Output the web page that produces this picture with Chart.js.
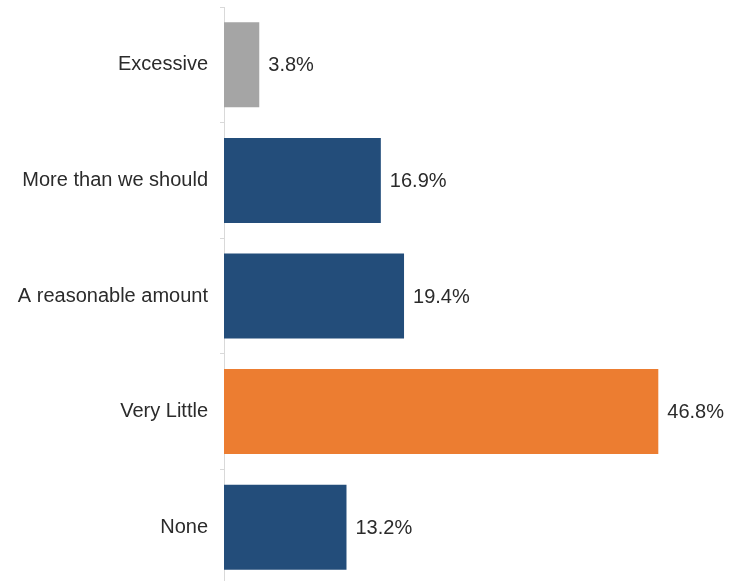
<!DOCTYPE html>
<html>
<head>
<meta charset="utf-8">
<script src="https://cdn.jsdelivr.net/npm/chart.js@4/dist/chart.umd.min.js"></script>
<style>
  html, body { margin: 0; padding: 0; background: #ffffff; overflow: hidden; }
  #wrap { width: 733px; height: 585px; }
</style>
</head>
<body>
<div id="wrap"><canvas id="c"></canvas></div>
<script>
// Survey answers and their shares (percent)
const categories = ["Excessive", "More than we should", "A reasonable amount", "Very Little", "None"];
const shares = [3.8, 16.9, 19.4, 46.8, 13.2];
const barColors = ["#a5a5a5", "#234d7a", "#234d7a", "#ec7d31", "#234d7a"];

const FONT_FAMILY = "'Liberation Sans', Arial, sans-serif";
const FONT_SIZE = 20;

// Prints each bar's value just past its end
const valueLabels = {
  id: "valueLabels",
  afterDatasetsDraw(chart) {
    const ctx = chart.ctx;
    const meta = chart.getDatasetMeta(0);
    ctx.save();
    ctx.font = FONT_SIZE + "px " + FONT_FAMILY;
    ctx.fillStyle = "#2b2b2b";
    ctx.textAlign = "left";
    ctx.textBaseline = "middle";
    meta.data.forEach((bar, i) => {
      ctx.fillText(shares[i].toFixed(1) + "%", bar.x + 9, bar.y + 1);
    });
    ctx.restore();
  }
};

new Chart(document.getElementById("c"), {
  type: "bar",
  data: {
    labels: categories,
    datasets: [{
      data: shares,
      backgroundColor: barColors,
      borderWidth: 0,
      barPercentage: 0.735,
      categoryPercentage: 1.0
    }]
  },
  options: {
    indexAxis: "y",
    responsive: true,
    maintainAspectRatio: false,
    animation: false,
    layout: { padding: { top: 7, right: 45, bottom: 0, left: 0 } },
    plugins: { legend: { display: false }, tooltip: { enabled: false } },
    scales: {
      x: {
        display: false,
        min: 0,
        max: 50
      },
      y: {
        afterFit(scale) {
          scale.width = 224;
          scale.paddingTop = 0;
          scale.paddingBottom = 0;
        },
        border: { display: true, color: "#d9d9d9", width: 1 },
        grid: {
          offset: true,
          drawOnChartArea: false,
          drawTicks: true,
          tickLength: 4,
          color: "#d9d9d9"
        },
        ticks: {
          color: "#2b2b2b",
          padding: 12,
          font: { family: FONT_FAMILY, size: FONT_SIZE }
        }
      }
    }
  },
  plugins: [valueLabels]
});
</script>
</body>
</html>
